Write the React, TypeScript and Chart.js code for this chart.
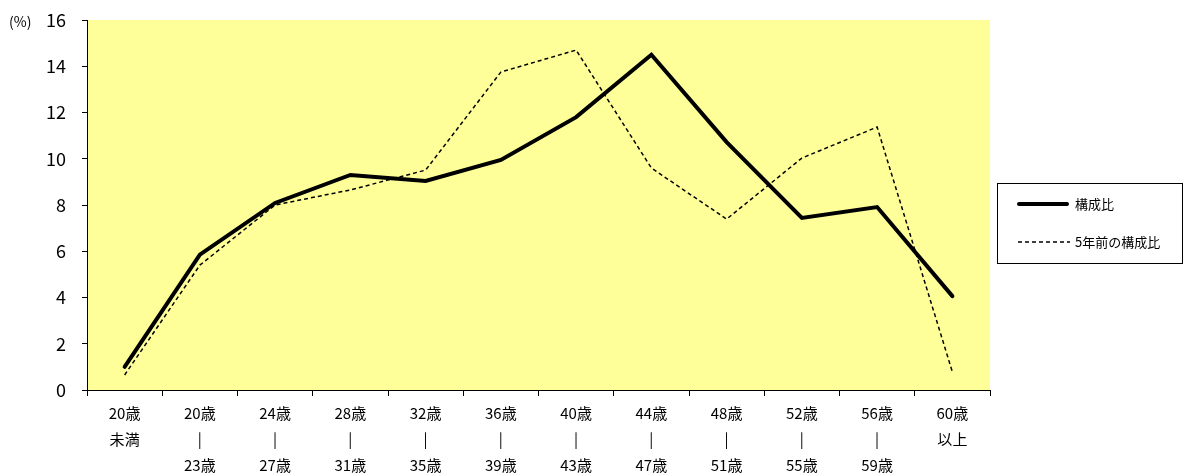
import React, { useEffect, useRef } from "react";
import { Chart, registerables } from "chart.js";

Chart.register(...registerables);

const categories: string[][] = [
  ["20歳", "未満"],
  ["20歳", "|", "23歳"],
  ["24歳", "|", "27歳"],
  ["28歳", "|", "31歳"],
  ["32歳", "|", "35歳"],
  ["36歳", "|", "39歳"],
  ["40歳", "|", "43歳"],
  ["44歳", "|", "47歳"],
  ["48歳", "|", "51歳"],
  ["52歳", "|", "55歳"],
  ["56歳", "|", "59歳"],
  ["60歳", "以上"],
];
const current = [1.0, 5.85, 8.09, 9.3, 9.04, 9.95, 11.8, 14.5, 10.72, 7.44, 7.91, 4.06];
const fiveYearsAgo = [0.65, 5.4, 8.0, 8.65, 9.51, 13.75, 14.7, 9.6, 7.39, 10.03, 11.37, 0.78];
const seriesNames = ["構成比", "5年前の構成比"];
const yTicks = [0, 2, 4, 6, 8, 10, 12, 14, 16];

const FONT = "'Noto Sans CJK JP', 'Noto Sans', sans-serif";

export default function App() {
  const ref = useRef<HTMLCanvasElement | null>(null);
  useEffect(() => {
    document.body.style.margin = "0";
    const bgPlugin = {
      id: "bg",
      beforeDraw(chart: any) {
        const { ctx, chartArea } = chart;
        ctx.save();
        ctx.fillStyle = "#FFFF99";
        ctx.fillRect(chartArea.left, chartArea.top, chartArea.right - chartArea.left, chartArea.bottom - chartArea.top);
        ctx.restore();
      },
      afterDraw(chart: any) {
        const { ctx, chartArea } = chart;
        ctx.save();
        ctx.fillStyle = "#000";
        ctx.font = `14px ${FONT}`;
        ctx.textBaseline = "middle";
        ctx.textAlign = "left";
        ctx.fillText("(%)", 9, chartArea.top + 2);
        const bx = 997, by = 183, bw = 185, bh = 80;
        ctx.strokeStyle = "#000";
        ctx.lineWidth = 1;
        ctx.strokeRect(bx + 0.5, by + 0.5, bw, bh);
        ctx.font = `13px ${FONT}`;
        ctx.beginPath();
        ctx.lineWidth = 4;
        ctx.lineCap = "round";
        ctx.moveTo(1019, 204);
        ctx.lineTo(1067, 204);
        ctx.stroke();
        ctx.fillText(seriesNames[0], 1075, 204);
        ctx.beginPath();
        ctx.lineWidth = 1.5;
        ctx.lineCap = "butt";
        ctx.setLineDash([4, 3]);
        ctx.moveTo(1018, 242);
        ctx.lineTo(1070, 242);
        ctx.stroke();
        ctx.setLineDash([]);
        ctx.fillText(seriesNames[1], 1075, 242);
        ctx.restore();
      },
    };
    const chart = new Chart(ref.current!, {
      type: "line",
      data: {
        labels: categories,
        datasets: [
          {
            label: seriesNames[0],
            data: current,
            borderColor: "#000",
            borderWidth: 4,
            pointRadius: 0,
            tension: 0,
            borderCapStyle: "round",
            borderJoinStyle: "miter",
          },
          {
            label: seriesNames[1],
            data: fiveYearsAgo,
            borderColor: "#000",
            borderWidth: 1.5,
            borderDash: [4, 3],
            pointRadius: 0,
            tension: 0,
          },
        ],
      },
      options: {
        animation: false,
        responsive: false,
        layout: { padding: { left: 0, top: 20, right: 193, bottom: 0 } },
        plugins: { legend: { display: false }, tooltip: { enabled: false } },
        scales: {
          x: {
            offset: true,
            grid: { display: true, offset: true, drawOnChartArea: false, drawTicks: true, tickLength: 6, color: "#000" },
            border: { color: "#000", width: 1 },
            ticks: {
              color: "#000",
              font: { family: FONT, size: 15, lineHeight: 1.75 },
              maxRotation: 0,
              autoSkip: false,
              padding: 4,
            },
            afterFit(scale: any) {
              scale.height = 85;
              scale.paddingLeft = 0;
              scale.paddingRight = 0;
            },
          },
          y: {
            min: 0,
            max: 16,
            afterBuildTicks(scale: any) {
              scale.ticks = yTicks.map((v) => ({ value: v }));
            },
            grid: { display: true, drawOnChartArea: false, drawTicks: true, tickLength: 5, color: "#000" },
            border: { color: "#000", width: 1 },
            ticks: {
              color: "#000",
              font: { family: FONT, size: 18 },
              padding: 16,
            },
            afterFit(scale: any) {
              scale.width = 87;
              scale.paddingTop = 0;
              scale.paddingBottom = 0;
            },
          },
        },
      } as any,
      plugins: [bgPlugin],
    });
    return () => chart.destroy();
  }, []);
  return (
    <div style={{ width: 1183, height: 475 }}>
      <canvas ref={ref} width={1183} height={475} style={{ width: 1183, height: 475 }} />
    </div>
  );
}
